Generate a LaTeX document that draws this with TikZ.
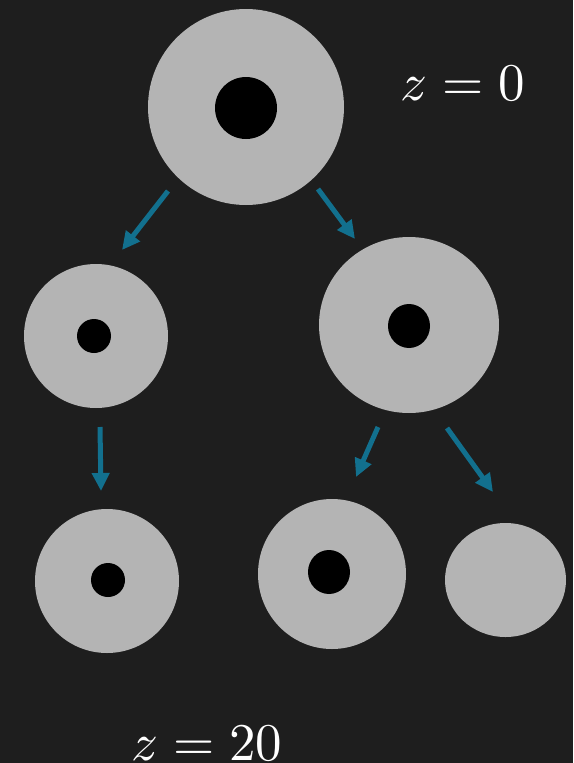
\documentclass[tikz,border=0pt]{standalone}
\usetikzlibrary{arrows.meta}
\definecolor{bg}{HTML}{1E1E1E}
\definecolor{disk}{HTML}{B4B4B4}
\definecolor{arr}{HTML}{12708E}
\begin{document}
\begin{tikzpicture}[x=1pt,y=-1pt,
  diskst/.style={fill=disk,draw=none},
  holest/.style={fill=black,draw=none},
  arrst/.style={draw=arr,line width=5pt,-{Triangle[length=18pt,width=17pt]}},
  lbl/.style={text=white,font=\normalsize,inner sep=0pt,scale=5.3}]
\fill[bg] (0,0) rectangle (573,763);
\useasboundingbox (0,0) rectangle (573,763);
% disks
\fill[diskst] (246,107) circle (98);
\fill[holest] (246,108) circle (31);
\fill[diskst] (96,336) circle (72);
\fill[holest] (94,336) circle (17);
\fill[diskst] (409,325) ellipse [x radius=90,y radius=88];
\fill[holest] (409,326) ellipse [x radius=21,y radius=22];
\fill[diskst] (107,581) circle (72);
\fill[holest] (108,580) circle (17);
\fill[diskst] (332,574) ellipse [x radius=74,y radius=75];
\fill[holest] (329,572) ellipse [x radius=21,y radius=22];
\fill[diskst] (505.5,580) ellipse [x radius=60.5,y radius=57];
% arrow endpoints
\coordinate (a1s) at (168,191); \coordinate (a1e) at (122,250);
\coordinate (a2s) at (318,189); \coordinate (a2e) at (355,239);
\coordinate (a3s) at (100,427); \coordinate (a3e) at (101,491);
\coordinate (a4s) at (378,427); \coordinate (a4e) at (356,477);
\coordinate (a5s) at (447,428); \coordinate (a5e) at (493,492);
\draw[arrst] (a1s) -- (a1e);
\draw[arrst] (a2s) -- (a2e);
\draw[arrst] (a3s) -- (a3e);
\draw[arrst] (a4s) -- (a4e);
\draw[arrst] (a5s) -- (a5e);
% labels
\node[lbl] (z0) at (463,83) {$z=0$};
\node[lbl] (z20) at (207,743) {$z=20$};
\end{tikzpicture}
\end{document}
